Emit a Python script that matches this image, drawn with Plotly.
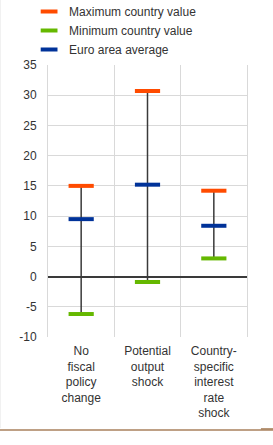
import plotly.graph_objects as go

categories = ["No<br>fiscal<br>policy<br>change", "Potential<br>output<br>shock", "Country-<br>specific<br>interest<br>rate<br>shock"]
max_vals = [15.0, 30.7, 14.2]
min_vals = [-6.2, -0.9, 3.0]
avg_vals = [9.5, 15.2, 8.4]
y_ticks = [-10, -5, 0, 5, 10, 15, 20, 25, 30, 35]
y_ticktext = ["-10", "-5", "0", "5", "10", "15", "20", "25", "30", "35"]

series = [
    ("Maximum country value", max_vals, "#ff4b00"),
    ("Minimum country value", min_vals, "#65b800"),
    ("Euro area average", avg_vals, "#003299"),
]

fig = go.Figure()

wx, wy = [], []
for c, lo, hi in zip(categories, min_vals, max_vals):
    wx += [c, c, None]
    wy += [lo, hi, None]
fig.add_trace(go.Scatter(x=wx, y=wy, mode="lines", line=dict(color="#3a3a3a", width=1.5),
                         showlegend=False, hoverinfo="skip"))

for name, vals, color in series:
    fig.add_trace(go.Scatter(x=categories, y=vals, mode="markers", name=name, showlegend=False,
                             marker=dict(symbol="line-ew-open", size=18, color=color,
                                         line=dict(color=color, width=4))))
for name, vals, color in series:
    fig.add_trace(go.Scatter(x=[categories[0]], y=[None], mode="markers", name=name,
                             hoverinfo="skip",
                             marker=dict(symbol="line-ew-open", size=12, color=color,
                                         line=dict(color=color, width=4))))

fig.update_layout(
    width=273, height=445,
    margin=dict(l=48, r=26, t=65, b=108, autoexpand=False),
    paper_bgcolor="white", plot_bgcolor="white",
    font=dict(family="Liberation Sans, Arial", size=12, color="#333333"),
    legend=dict(x=-0.095, y=1.25, yanchor="top", xanchor="left",
                font=dict(size=12, color="#333333"), tracegroupgap=0,
                itemwidth=30, bgcolor="rgba(0,0,0,0)", traceorder="normal"),
    xaxis=dict(type="category", categoryorder="array", categoryarray=categories,
               tickson="boundaries", showgrid=True, gridcolor="#d9d9d9",
               gridwidth=1, ticks="", ticklabelstandoff=5,
               showline=False, tickfont=dict(size=12, color="#333333"),
               range=[-0.5, 2.5]),
    yaxis=dict(range=[-10, 35], tickvals=y_ticks, ticktext=y_ticktext, showgrid=True,
               gridcolor="#d9d9d9", gridwidth=1, zeroline=True, zerolinecolor="#3a3a3a",
               zerolinewidth=1.5, ticks="outside", ticklen=8, tickcolor="rgba(0,0,0,0)",
               showline=True, linecolor="#d9d9d9", linewidth=1, mirror=True,
               tickfont=dict(size=12, color="#333333")),
    shapes=[
        dict(type="line", xref="paper", yref="paper", x0=-0.25, x1=1.14,
             y0=-0.342, y1=-0.342, line=dict(color="#a8805c", width=1.5)),
        dict(type="line", xref="paper", yref="paper", x0=1.07, x1=1.14,
             y0=-0.338, y1=-0.338, line=dict(color="#a8805c", width=1.5)),
        dict(type="line", xref="paper", yref="paper", x0=-0.2395, x1=-0.2395,
             y0=-0.335, y1=1.24, line=dict(color="#eeeeee", width=1)),
    ],
)

fig.write_html("out.html")
